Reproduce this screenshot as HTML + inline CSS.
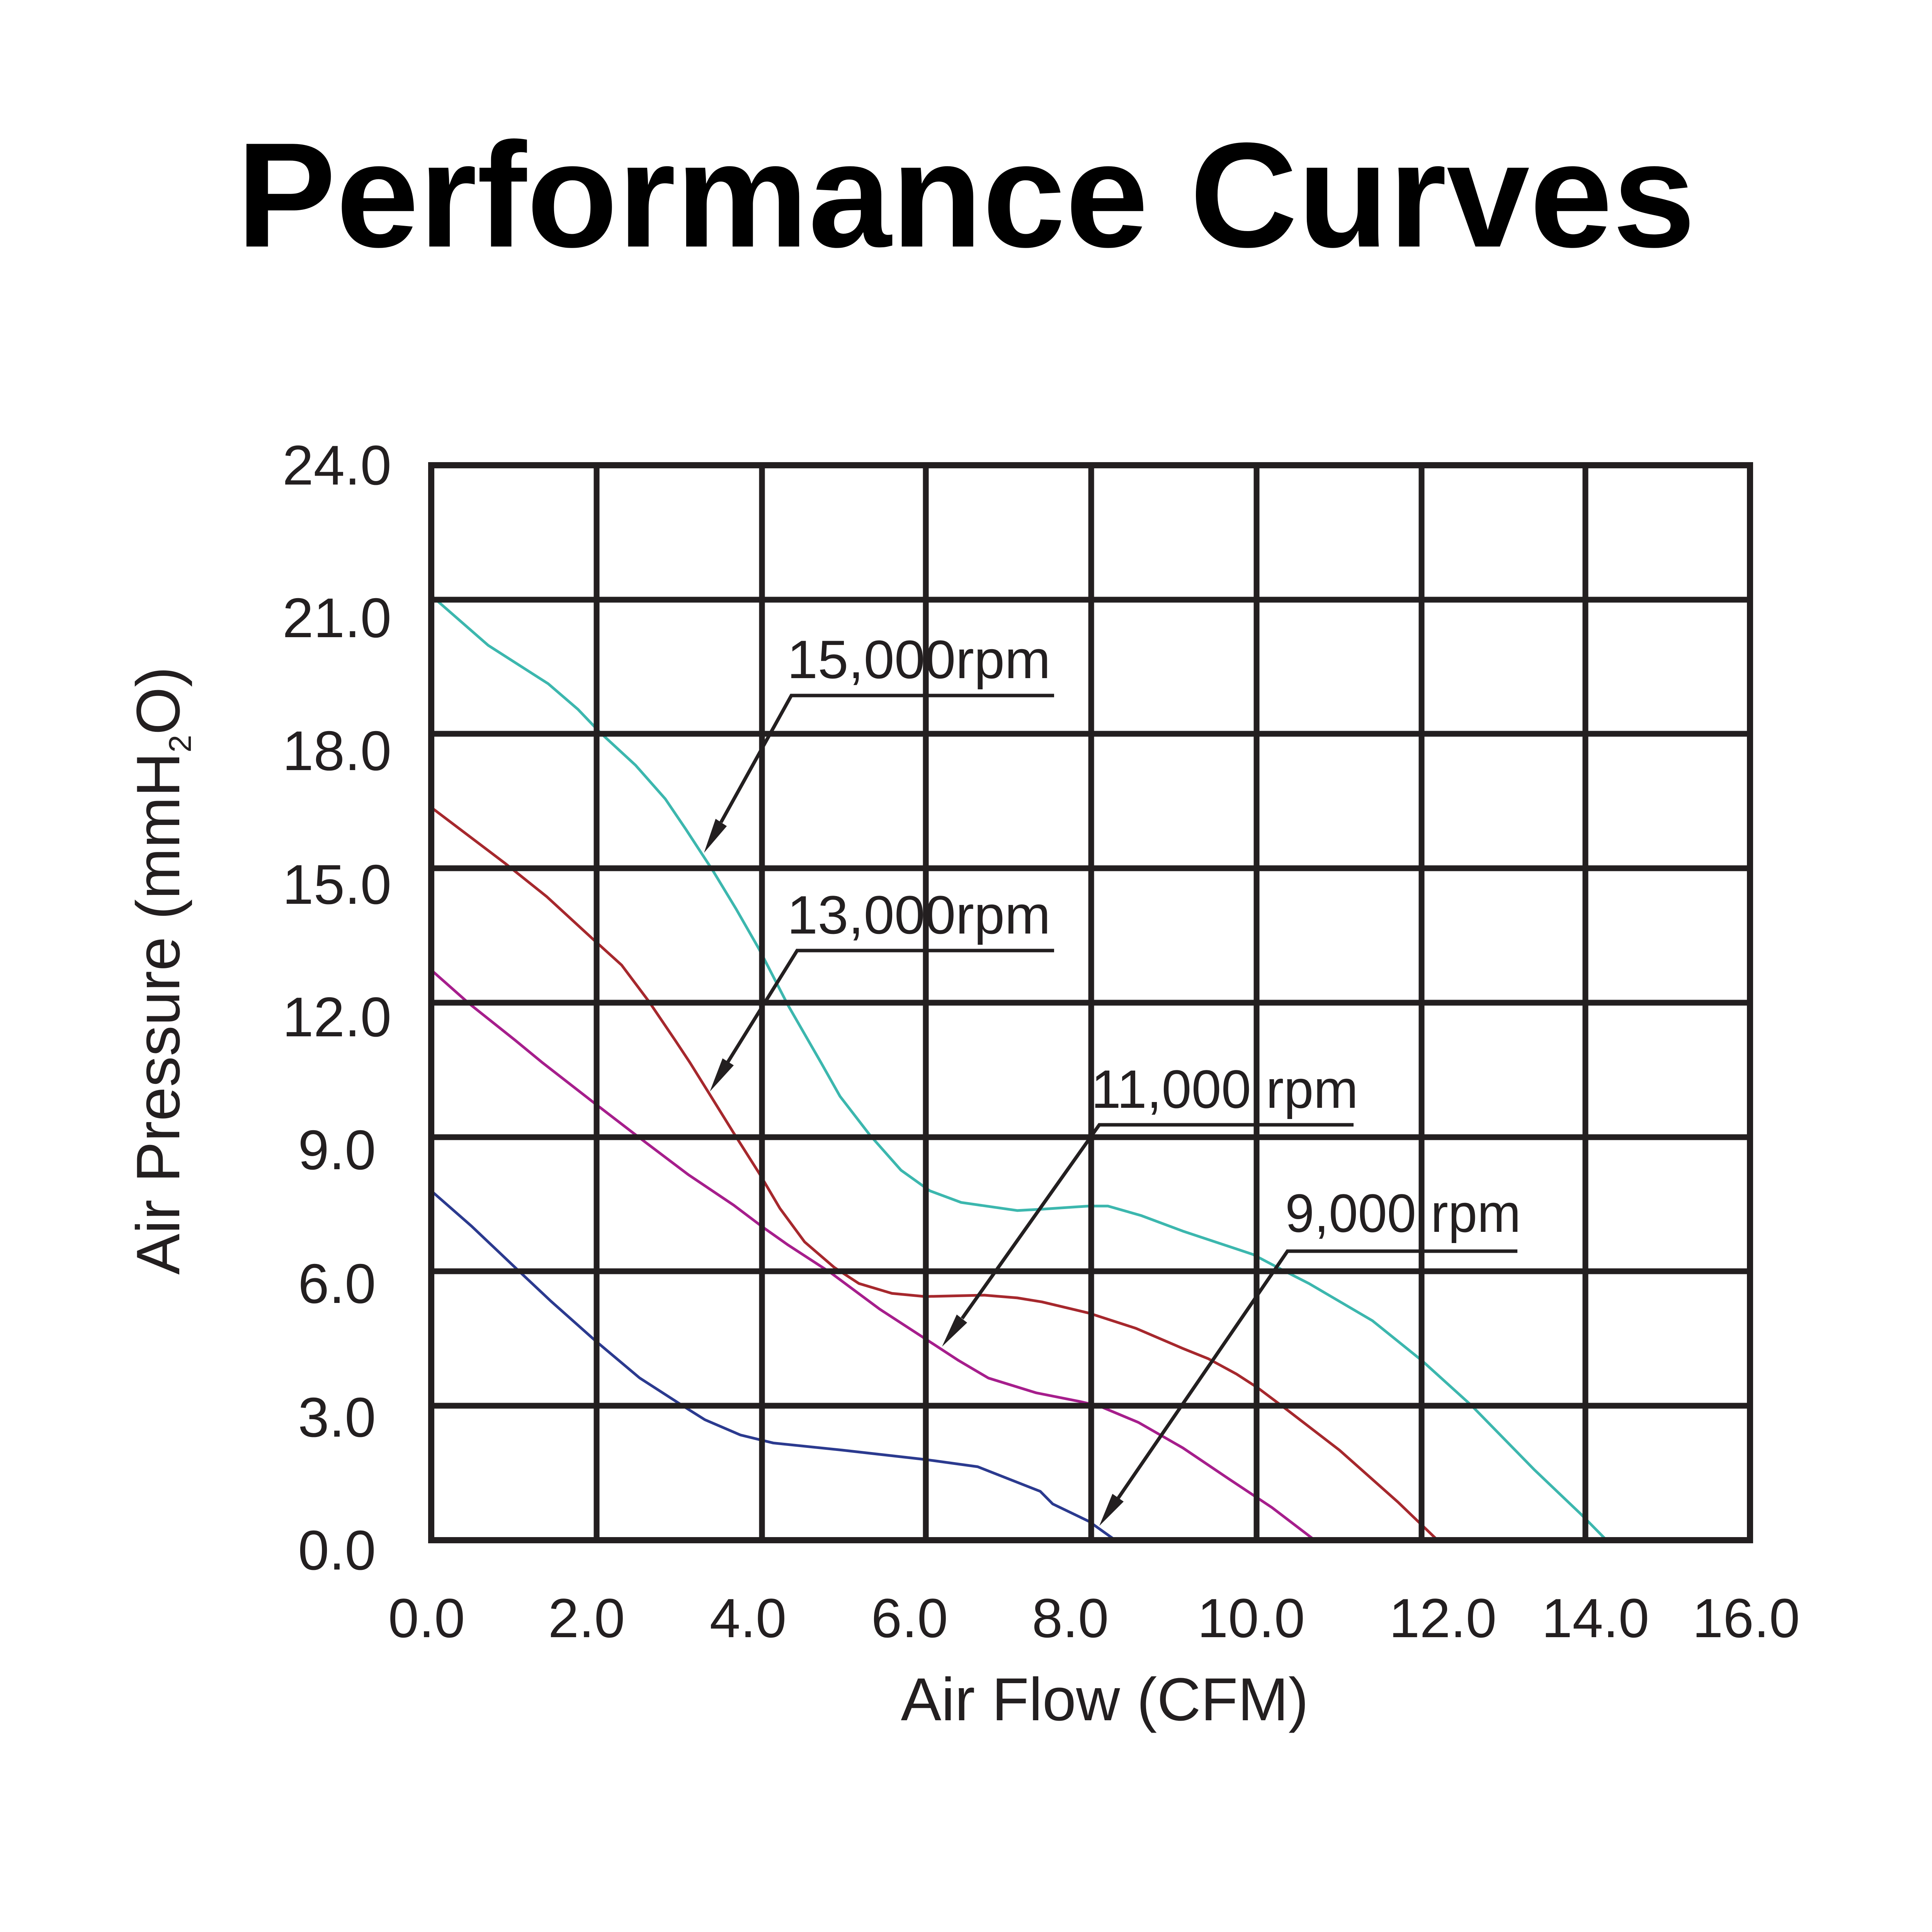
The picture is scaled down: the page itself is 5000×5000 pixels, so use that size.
<!DOCTYPE html>
<html><head><meta charset="utf-8"><style>
html,body{margin:0;padding:0;background:#fff;}
svg{display:block;}
text{font-family:"Liberation Sans",Arial,Helvetica,sans-serif;fill:#231f20;}
</style></head><body>
<svg width="5000" height="5000" viewBox="0 0 5000 5000" xmlns="http://www.w3.org/2000/svg">
<rect x="0" y="0" width="5000" height="5000" fill="#fff"/>

<!-- Title -->
<text x="2500" y="638" font-size="386" font-weight="bold" text-anchor="middle" style="fill:#000">Performance Curves</text>

<!-- Curves -->
<g transform="translate(1116,3986) scale(213.3,-115.92)" fill="none" stroke-linejoin="round" stroke-linecap="butt">
<polyline vector-effect="non-scaling-stroke" stroke="#3cb7ae" stroke-width="7" points="0,21.09 0.69,19.98 1.42,19.12 1.78,18.55 2.05,18.03 2.48,17.3 2.84,16.55 3.09,15.87 3.42,14.94 3.70,14.09 3.98,13.19 4.33,11.94 4.73,10.66 4.96,9.91 5.32,9.05 5.70,8.26 6.05,7.8 6.43,7.54 7.11,7.36 7.41,7.39 7.98,7.46 8.21,7.46 8.61,7.25 9.12,6.9 9.97,6.38 10.31,6.05 10.65,5.73 11.42,4.9 12.02,4.01 12.62,3.01 13.38,1.58 13.95,0.58 14.26,0"/>
<polyline vector-effect="non-scaling-stroke" stroke="#a6282d" stroke-width="7" points="0,16.36 0.89,15.12 1.40,14.37 1.95,13.44 2.31,12.84 2.64,12.03 2.96,11.16 3.14,10.66 3.37,9.98 3.67,9.09 3.98,8.19 4.23,7.41 4.53,6.66 4.89,6.09 5.19,5.73 5.59,5.51 5.99,5.44 6.71,5.47 7.11,5.41 7.41,5.32 7.98,5.07 8.55,4.73 9.12,4.28 9.43,4.05 9.77,3.71 10.03,3.40 10.37,2.93 11.02,2.01 11.73,0.85 12.21,0"/>
<polyline vector-effect="non-scaling-stroke" stroke="#a61e8c" stroke-width="7" points="0,12.73 0.46,11.98 1.02,11.16 1.35,10.66 2.0,9.73 2.48,9.05 3.12,8.16 3.67,7.48 4.03,6.98 4.33,6.59 4.84,5.98 5.44,5.16 5.95,4.55 6.40,4.01 6.76,3.62 7.34,3.29 7.86,3.1 8.1,3.0 8.58,2.63 9.12,2.06 9.66,1.39 10.2,0.73 10.72,0"/>
<polyline vector-effect="non-scaling-stroke" stroke="#2b3a8f" stroke-width="7" points="0,7.8 0.49,7.01 1.04,6.05 1.45,5.34 2.0,4.44 2.53,3.62 3.07,2.98 3.32,2.69 3.75,2.35 4.15,2.17 4.99,2.01 6.0,1.8 6.63,1.64 7.39,1.09 7.54,0.81 7.98,0.42 8.30,0"/>
</g>

<!-- Grid -->
<g stroke="#231f20" stroke-width="15" fill="none">
<line x1="1544" y1="1204" x2="1544" y2="3986"/>
<line x1="1972" y1="1204" x2="1972" y2="3986"/>
<line x1="2396" y1="1204" x2="2396" y2="3986"/>
<line x1="2824" y1="1204" x2="2824" y2="3986"/>
<line x1="3252" y1="1204" x2="3252" y2="3986"/>
<line x1="3679" y1="1204" x2="3679" y2="3986"/>
<line x1="4103" y1="1204" x2="4103" y2="3986"/>
<line x1="1116" y1="1552" x2="4529" y2="1552"/>
<line x1="1116" y1="1899" x2="4529" y2="1899"/>
<line x1="1116" y1="2247" x2="4529" y2="2247"/>
<line x1="1116" y1="2595" x2="4529" y2="2595"/>
<line x1="1116" y1="2943" x2="4529" y2="2943"/>
<line x1="1116" y1="3290" x2="4529" y2="3290"/>
<line x1="1116" y1="3638" x2="4529" y2="3638"/>
<rect x="1116" y="1204" width="3413" height="2782" stroke-width="16"/>
</g>

<!-- Annotation arrows -->
<g stroke="#231f20" stroke-width="9" fill="none" stroke-linecap="butt">
<polyline points="2728,1800 2048,1800 1866,2128"/>
<polyline points="2728,2460 2063,2460 1884,2748"/>
<polyline points="3503,2911 2845,2911 2490,3412"/>
<polyline points="3927,3238 3332,3238 2894,3877"/>
</g>
<g fill="#231f20">
<polygon points="1822,2207 1852,2119 1881,2138"/>
<polygon points="1837,2825 1870,2739 1899,2757"/>
<polygon points="2438,3485 2476,3402 2503,3423"/>
<polygon points="2845,3949 2879,3866 2908,3886"/>
</g>

<!-- Annotation labels -->
<text x="2037" y="1755" font-size="140" textLength="682" lengthAdjust="spacingAndGlyphs">15,000rpm</text>
<text x="2037" y="2416" font-size="140" textLength="682" lengthAdjust="spacingAndGlyphs">13,000rpm</text>
<text x="2824" y="2867" font-size="140" textLength="691" lengthAdjust="spacingAndGlyphs">11,000 rpm</text>
<text x="3326" y="3188" font-size="140" textLength="610" lengthAdjust="spacingAndGlyphs">9,000 rpm</text>

<!-- Y tick labels -->
<g font-size="145" text-anchor="middle">
<text x="872" y="1254">24.0</text>
<text x="872" y="1649">21.0</text>
<text x="872" y="1993">18.0</text>
<text x="872" y="2339">15.0</text>
<text x="872" y="2682">12.0</text>
<text x="872" y="3026">9.0</text>
<text x="872" y="3372">6.0</text>
<text x="872" y="3718">3.0</text>
<text x="872" y="4062">0.0</text>
</g>

<!-- X tick labels -->
<g font-size="143" text-anchor="middle">
<text x="1104" y="4237">0.0</text>
<text x="1518" y="4237">2.0</text>
<text x="1936" y="4237">4.0</text>
<text x="2354" y="4237">6.0</text>
<text x="2770" y="4237">8.0</text>
<text x="3238" y="4237">10.0</text>
<text x="3734" y="4237">12.0</text>
<text x="4129" y="4237">14.0</text>
<text x="4519" y="4237">16.0</text>
</g>

<!-- Axis titles -->
<text x="2859" y="4452" font-size="157" text-anchor="middle">Air Flow (CFM)</text>
<text transform="translate(464,2512) rotate(-90)" x="0" y="0" font-size="159" text-anchor="middle">Air Pressure (mmH<tspan font-size="82" dy="30">2</tspan><tspan dy="-30">O)</tspan></text>
</svg>
</body></html>
